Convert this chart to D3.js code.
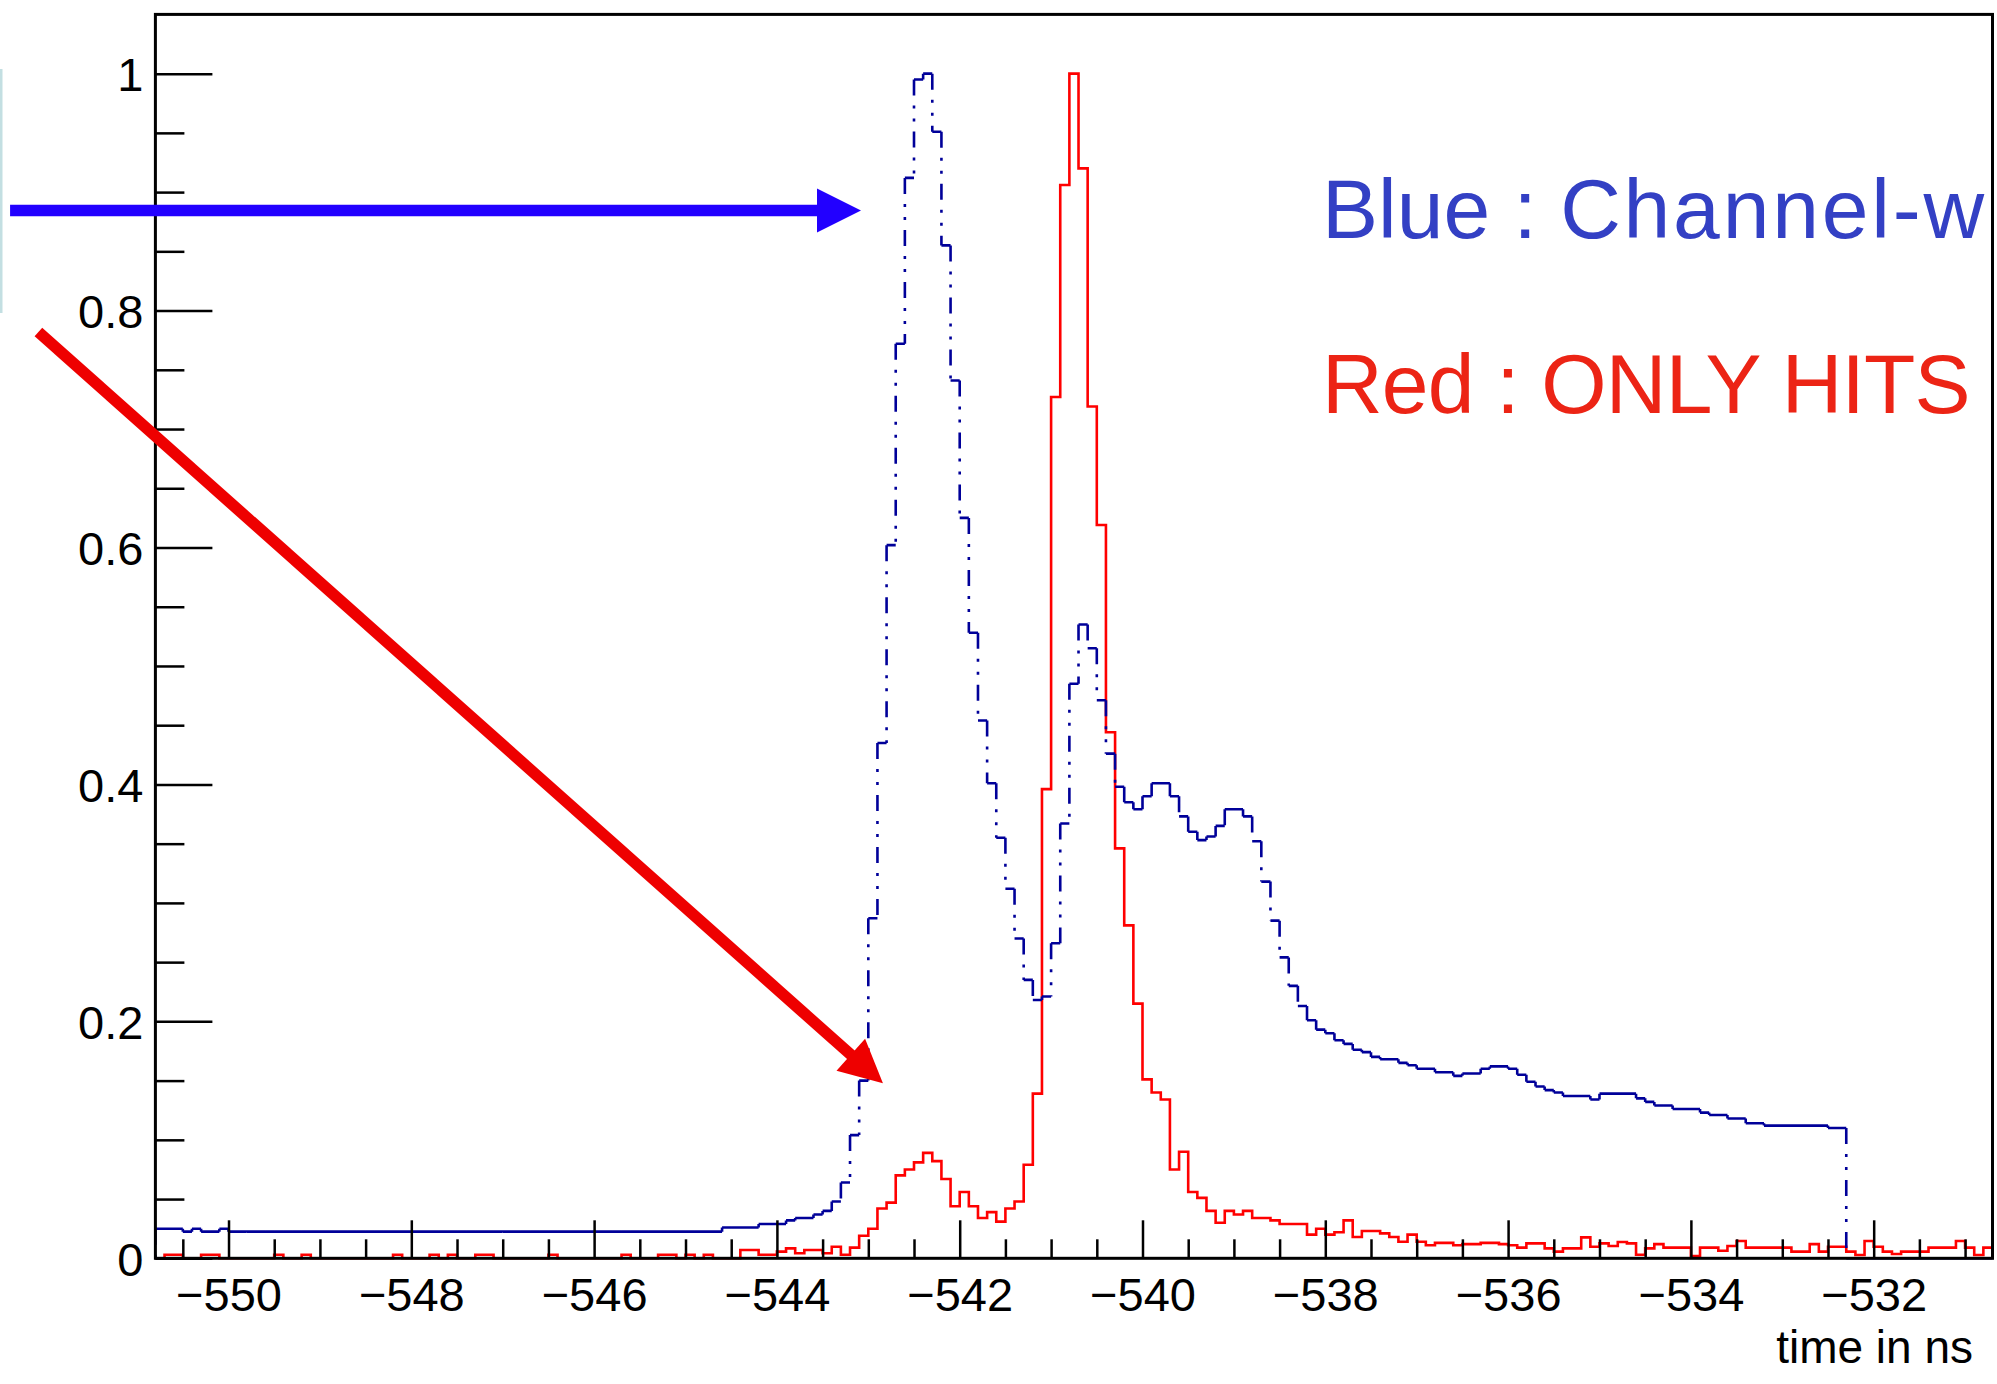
<!DOCTYPE html>
<html>
<head>
<meta charset="utf-8">
<script src="https://cdn.jsdelivr.net/npm/d3@7"></script>
<style>
  html, body { margin: 0; padding: 0; background: #fff; }
  svg { display: block; }
</style>
</head>
<body>
<div id="chart"></div>
<script>
// Histogram binning (0.1 ns bins starting at the left edge of the frame)
const binStart = -550.8;
const binWidth = 0.1;

// Blue : channel-wise histogram (normalised to peak)
const blueValues = [
  0.025, 0.025, 0.025, 0.0225, 0.025, 0.0225, 0.0225, 0.025, 0.0225, 0.0225,
  0.0225, 0.0225, 0.0225, 0.0225, 0.0225, 0.0225, 0.0225, 0.0225, 0.0225, 0.0225,
  0.0225, 0.0225, 0.0225, 0.0225, 0.0225, 0.0225, 0.0225, 0.0225, 0.0225, 0.0225,
  0.0225, 0.0225, 0.0225, 0.0225, 0.0225, 0.0225, 0.0225, 0.0225, 0.0225, 0.0225,
  0.0225, 0.0225, 0.0225, 0.0225, 0.0225, 0.0225, 0.0225, 0.0225, 0.0225, 0.0225,
  0.0225, 0.0225, 0.0225, 0.0225, 0.0225, 0.0225, 0.0225, 0.0225, 0.0225, 0.0225,
  0.0225, 0.0225, 0.026, 0.026, 0.026, 0.026, 0.029, 0.029, 0.029, 0.032,
  0.034, 0.034, 0.037, 0.040, 0.048, 0.064, 0.104, 0.150, 0.287, 0.435,
  0.602, 0.772, 0.912, 0.995, 1.000, 0.951, 0.855, 0.741, 0.625, 0.528,
  0.454, 0.401, 0.355, 0.312, 0.270, 0.235, 0.218, 0.221, 0.266, 0.367,
  0.485, 0.535, 0.515, 0.471, 0.426, 0.398, 0.385, 0.379, 0.390, 0.401,
  0.401, 0.390, 0.373, 0.360, 0.353, 0.356, 0.365, 0.379, 0.379, 0.373,
  0.352, 0.318, 0.285, 0.254, 0.230, 0.213, 0.201, 0.193, 0.190, 0.184,
  0.181, 0.176, 0.174, 0.170, 0.168, 0.168, 0.165, 0.163, 0.160, 0.160,
  0.157, 0.157, 0.154, 0.156, 0.156, 0.160, 0.162, 0.162, 0.160, 0.155,
  0.149, 0.145, 0.142, 0.140, 0.137, 0.137, 0.137, 0.134, 0.139, 0.139,
  0.139, 0.139, 0.135, 0.132, 0.129, 0.129, 0.126, 0.126, 0.126, 0.123,
  0.121, 0.121, 0.118, 0.118, 0.114, 0.114, 0.112, 0.112, 0.112, 0.112,
  0.112, 0.112, 0.112, 0.110, 0.110, 0, 0, 0, 0, 0,
  0, 0, 0, 0, 0, 0, 0, 0, 0, 0,
  0
];

// Red : only hits (normalised to peak)
const redValues = [
  0, 0.003, 0.003, 0, 0, 0.003, 0.003, 0, 0, 0,
  0, 0, 0, 0.003, 0, 0, 0.003, 0, 0, 0,
  0, 0, 0, 0, 0, 0, 0.003, 0, 0, 0,
  0.003, 0, 0.003, 0, 0, 0.003, 0.003, 0, 0, 0,
  0, 0, 0, 0.003, 0, 0, 0, 0, 0, 0,
  0, 0.003, 0, 0, 0, 0.003, 0.003, 0, 0.003, 0,
  0.003, 0, 0, 0, 0.007, 0.007, 0.003, 0.003, 0.0056, 0.0084,
  0.0042, 0.007, 0.007, 0.0042, 0.0098, 0.003, 0.009, 0.019, 0.025, 0.042,
  0.047, 0.070, 0.075, 0.081, 0.089, 0.082, 0.067, 0.044, 0.056, 0.044,
  0.034, 0.039, 0.031, 0.042, 0.048, 0.079, 0.139, 0.396, 0.727, 0.906,
  1.000, 0.920, 0.719, 0.619, 0.444, 0.346, 0.281, 0.215, 0.151, 0.140,
  0.134, 0.075, 0.090, 0.056, 0.051, 0.040, 0.030, 0.040, 0.037, 0.040,
  0.034, 0.034, 0.032, 0.029, 0.029, 0.029, 0.020, 0.025, 0.020, 0.022,
  0.032, 0.018, 0.023, 0.023, 0.021, 0.018, 0.014, 0.020, 0.014, 0.011,
  0.013, 0.013, 0.011, 0.012, 0.012, 0.013, 0.013, 0.012, 0.011, 0.009,
  0.0126, 0.0126, 0.0084, 0.0056, 0.0084, 0.0084, 0.0177, 0.0098, 0.0126, 0.0104,
  0.0138, 0.0126, 0.003, 0.0084, 0.012, 0.009, 0.009, 0.009, 0.002, 0.009,
  0.009, 0.0064, 0.0104, 0.0146, 0.009, 0.009, 0.009, 0.009, 0.009, 0.0056,
  0.0056, 0.012, 0.0056, 0.0098, 0.0098, 0.0056, 0.0028, 0.0146, 0.0098, 0.0056,
  0.0036, 0.0056, 0.0056, 0.0056, 0.009, 0.009, 0.009, 0.0146, 0.009, 0.0028,
  0.009
];

const xDomain = [-550.8, -530.7];
const yDomain = [0, 1.05];
const xMajorTicks = [-550, -548, -546, -544, -542, -540, -538, -536, -534, -532];
const xTickLabels = ["\u2212550", "\u2212548", "\u2212546", "\u2212544", "\u2212542",
                     "\u2212540", "\u2212538", "\u2212536", "\u2212534", "\u2212532"];
const yMajorTicks = [0, 0.2, 0.4, 0.6, 0.8, 1];
const yTickLabels = ["0", "0.2", "0.4", "0.6", "0.8", "1"];
const xTitle = "time in ns";

// annotation text, split into pieces so each piece can get its own spacing
const legendLines = [
  { parts: [["Blue : ", 0], ["Channel-w", 2.8]], color: "#3340c4" },
  { parts: [["Red : ONLY HITS", -0.8]], color: "#ec2415" }
];

// annotation arrows, given in data coordinates [time, value]
const arrows = [
  { from: [-552.39, 0.8844], to: [-543.08, 0.8844], color: "#2200ff", width: 11.5, head: 44 },
  { from: [-552.08, 0.7819], to: [-542.84, 0.1477], color: "#ee0000", width: 11.5, head: 43 }
];

const W = 1997, H = 1384;
const frame = { left: 155.4, right: 1992.5, top: 14.4, bottom: 1258.3 };
const FONT = '"Liberation Sans", Arial, Helvetica, sans-serif';

const svg = d3.select("#chart").append("svg")
  .attr("width", W)
  .attr("height", H);

svg.append("rect").attr("width", W).attr("height", H).attr("fill", "#fff");

// faint leftover edge of a box at the far left
svg.append("rect")
  .attr("x", 0).attr("y", 69).attr("width", 2.5).attr("height", 244)
  .attr("fill", "#c3dfe2");

const x = d3.scaleLinear().domain(xDomain).range([frame.left, frame.right]);
const y = d3.scaleLinear().domain(yDomain).range([frame.bottom, frame.top]);

const edge = i => binStart + i * binWidth;

// Red histogram: plain step line
const redPoints = redValues.map((v, i) => [edge(i), v]);
redPoints.push([edge(redValues.length), redValues[redValues.length - 1]]);

const stepLine = d3.line()
  .x(d => x(d[0]))
  .y(d => y(d[1]))
  .curve(d3.curveStepAfter);

svg.append("path")
  .datum(redPoints)
  .attr("d", stepLine)
  .attr("fill", "none")
  .attr("stroke", "#ff0000")
  .attr("stroke-width", 2.6)
  .attr("stroke-linejoin", "miter");

// Blue histogram: every segment its own subpath so the dash-dot pattern
// restarts on each one (short horizontals stay solid, verticals show the pattern)
function segmentedSteps(values) {
  const p = d3.path();
  let prev = 0;
  values.forEach((v, i) => {
    const xa = x(edge(i)), xb = x(edge(i + 1));
    if (v !== prev) {
      p.moveTo(xa, Math.min(y(v), y(prev)));
      p.lineTo(xa, Math.max(y(v), y(prev)));
    }
    p.moveTo(xa, y(v));
    p.lineTo(xb, y(v));
    prev = v;
  });
  return p.toString();
}

svg.append("path")
  .attr("d", segmentedSteps(blueValues))
  .attr("fill", "none")
  .attr("stroke", "#000099")
  .attr("stroke-width", 2.6)
  .attr("stroke-linecap", "butt")
  .attr("stroke-dasharray", "16 10 3 10 3 10");

// Axes (ROOT style: ticks pointing into the frame)
const xMinor = d3.range(-550.5, -530.7, 0.5).filter(v => !xMajorTicks.includes(v));
const yMinor = d3.range(0.05, 1.0, 0.05).filter(v => !yMajorTicks.some(t => Math.abs(t - v) < 1e-6));

function styleAxis(g) {
  g.select(".domain").remove();
  g.attr("font-family", FONT).attr("font-size", 47);
  g.selectAll(".tick line").attr("stroke", "#000").attr("stroke-width", 2.5);
  g.selectAll(".tick text").attr("fill", "#000");
}

svg.append("g")
  .attr("transform", `translate(0,${frame.bottom})`)
  .call(d3.axisBottom(x).tickValues(xMinor).tickSize(-19).tickSizeOuter(0).tickFormat(""))
  .call(styleAxis);

svg.append("g")
  .attr("transform", `translate(0,${frame.bottom})`)
  .call(d3.axisBottom(x).tickValues(xMajorTicks).tickSize(-38).tickSizeOuter(0)
    .tickPadding(19).tickFormat((d, i) => xTickLabels[i]))
  .call(styleAxis);

svg.append("g")
  .attr("transform", `translate(${frame.left},0)`)
  .call(d3.axisLeft(y).tickValues(yMinor).tickSize(-29).tickSizeOuter(0).tickFormat(""))
  .call(styleAxis);

const gy = svg.append("g")
  .attr("transform", `translate(${frame.left},0)`)
  .call(d3.axisLeft(y).tickValues(yMajorTicks).tickSize(-57).tickSizeOuter(0)
    .tickPadding(12).tickFormat((d, i) => yTickLabels[i]))
  .call(styleAxis);
gy.selectAll(".tick text").attr("dy", "0.36em");

// frame
svg.append("rect")
  .attr("x", frame.left).attr("y", frame.top)
  .attr("width", frame.right - frame.left)
  .attr("height", frame.bottom - frame.top)
  .attr("fill", "none")
  .attr("stroke", "#000")
  .attr("stroke-width", 3);

// axis title
svg.append("text")
  .attr("x", 1973)
  .attr("y", 1363)
  .attr("text-anchor", "end")
  .attr("font-family", FONT)
  .attr("font-size", 46)
  .attr("fill", "#000")
  .text(xTitle);

// legend-like annotations
const notes = svg.selectAll(".note")
  .data(legendLines)
  .enter().append("text")
  .attr("class", "note")
  .attr("x", 1322)
  .attr("y", (d, i) => 238 + i * 175)
  .attr("font-family", FONT)
  .attr("font-size", 84)
  .attr("fill", d => d.color);

notes.selectAll("tspan")
  .data(d => d.parts)
  .enter().append("tspan")
  .attr("letter-spacing", d => d[1])
  .style("white-space", "pre")
  .text(d => d[0]);

// arrows
arrows.forEach(a => {
  const x0 = x(a.from[0]), y0 = y(a.from[1]);
  const x1 = x(a.to[0]), y1 = y(a.to[1]);
  const len = Math.hypot(x1 - x0, y1 - y0);
  const ux = (x1 - x0) / len, uy = (y1 - y0) / len;
  const bx = x1 - ux * a.head, by = y1 - uy * a.head;
  const hw = a.head / 2;
  svg.append("line")
    .attr("x1", x0).attr("y1", y0)
    .attr("x2", bx + ux * 2).attr("y2", by + uy * 2)
    .attr("stroke", a.color)
    .attr("stroke-width", a.width);
  svg.append("polygon")
    .attr("points", [[x1, y1], [bx - uy * hw, by + ux * hw], [bx + uy * hw, by - ux * hw]]
      .map(p => p.join(",")).join(" "))
    .attr("fill", a.color);
});
</script>
</body>
</html>
